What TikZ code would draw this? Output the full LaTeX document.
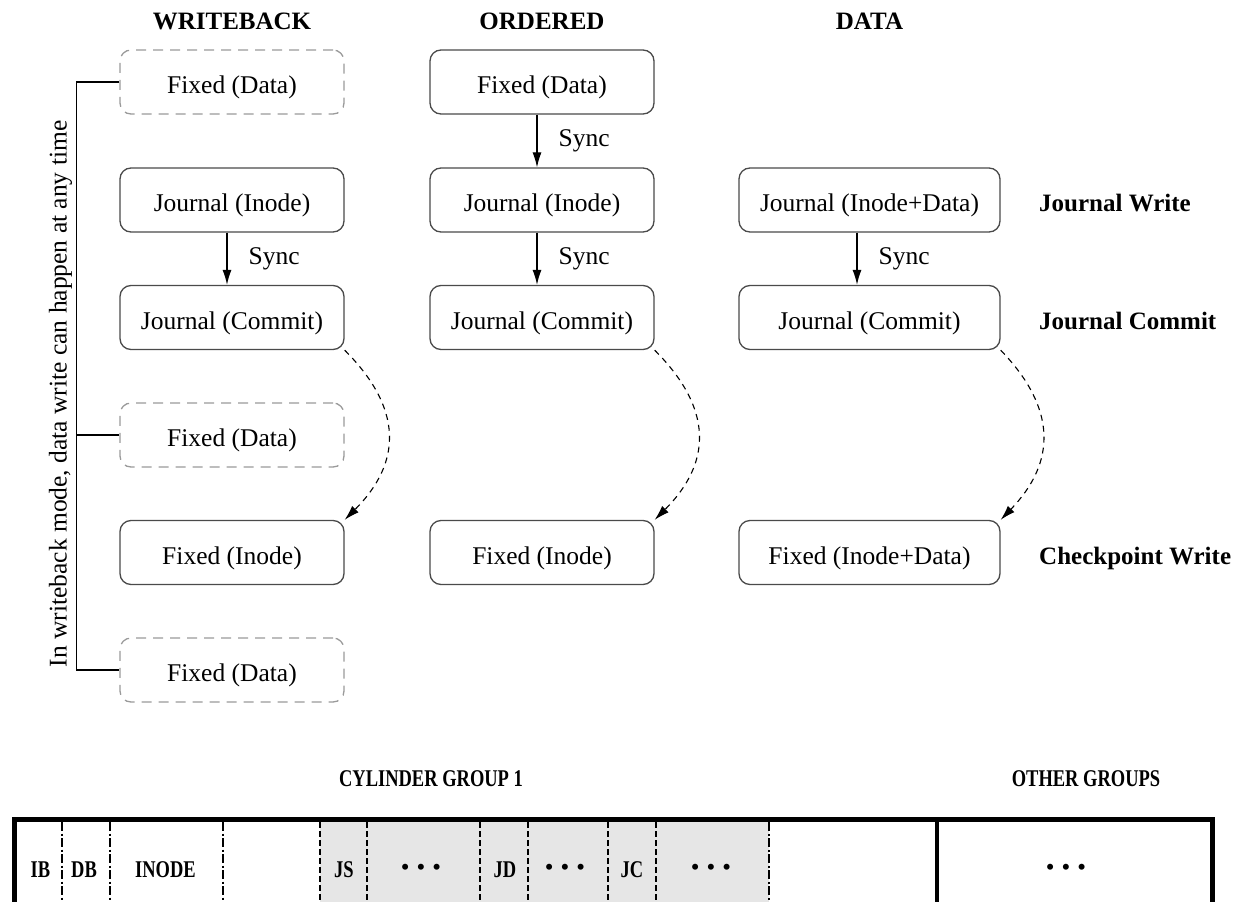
\documentclass[tikz,border=0pt]{standalone}
\usepackage{fontspec}
\setmainfont{Liberation Serif}
\usepackage{graphicx}
\usetikzlibrary{arrows.meta}

\definecolor{boxline}{HTML}{4A4A4A}
\definecolor{dashline}{HTML}{9A9A9A}
\definecolor{jfill}{HTML}{E6E6E6}

% condensed bold caps used in the on-disk layout strip
\newcommand{\condbf}[1]{\scalebox{0.77}[1]{\bfseries #1}}
\newcommand{\threedots}{\textbullet\hspace{8pt}\textbullet\hspace{8pt}\textbullet}

\begin{document}
\begin{tikzpicture}[x=1pt,y=-1pt,
  every node/.style={font=\fontsize{25.5}{30}\selectfont},
  blk/.style={rectangle, rounded corners=11pt, draw=boxline, line width=1.3pt,
              minimum height=64pt, text height=23.5pt, text depth=0pt, inner sep=0pt},
  wide/.style={minimum width=224pt},
  wider/.style={minimum width=261pt},
  ghost/.style={blk, draw=dashline, dash pattern=on 10pt off 7pt},
  syncarrow/.style={line width=1.2pt, -{Latex[length=15pt,width=9pt]}},
  lazyarrow/.style={line width=1.1pt, dash pattern=on 6pt off 5pt,
                    -{Latex[length=15pt,width=9pt]}},
  synclabel/.style={anchor=west, inner sep=0pt, xshift=21pt},
  head/.style={font=\fontsize{25}{30}\selectfont\bfseries, inner sep=0pt},
  phase/.style={font=\fontsize{25}{30}\selectfont\bfseries, anchor=west,
                inner sep=0pt, text height=23.5pt, text depth=0pt},
  bracket/.style={line width=1.2pt},
  cell/.style={font=\fontsize{24}{28}\selectfont, inner sep=0pt,
               text height=16pt, text depth=0pt},
  dots/.style={font=\fontsize{22}{26}\selectfont\bfseries, inner sep=0pt},
  dashdot/.style={line width=1.4pt, dash pattern=on 9pt off 2.5pt on 2pt off 2.5pt},
  dashsep/.style={line width=1.4pt, dash pattern=on 6pt off 3pt},
]
\useasboundingbox (0,0) rectangle (1240,902);
\clip (0,0) rectangle (1240,902);

% ---- column headings ----
\node[head] (hWB) at (232,21) {WRITEBACK};
\node[head] (hOR) at (542,21) {ORDERED};
\node[head] (hDA) at (869.5,21) {DATA};

% ---- writeback mode ----
\node[ghost,wide] (wbD1) at (232,82)    {Fixed (Data)};
\node[blk,wide]   (wbJI) at (232,200)   {Journal (Inode)};
\node[blk,wide]   (wbJC) at (232,317.5) {Journal (Commit)};
\node[ghost,wide] (wbD2) at (232,435)   {Fixed (Data)};
\node[blk,wide]   (wbFI) at (232,552.5) {Fixed (Inode)};
\node[ghost,wide] (wbD3) at (232,670)   {Fixed (Data)};

\draw[syncarrow] ([xshift=-5pt]wbJI.south) -- ([xshift=-5pt]wbJC.north)
  node[midway,synclabel] (wbS) {Sync};
\draw[lazyarrow] (wbJC.south east) .. controls +(58,58) and +(58,-58) .. (wbFI.north east);

% data may be written at any point in writeback mode
\draw[bracket] (wbD1.west) -- ++(-43,0) coordinate (brTop) |- (wbD3.west);
\draw[bracket] (wbD2.west) -- ++(-43,0) coordinate (brMid);
\node[rotate=90] (wbNote) at (60.5,394) {In writeback mode, data write can happen at any time};

% ---- ordered mode ----
\node[blk,wide] (orD)  at (542,82)    {Fixed (Data)};
\node[blk,wide] (orJI) at (542,200)   {Journal (Inode)};
\node[blk,wide] (orJC) at (542,317.5) {Journal (Commit)};
\node[blk,wide] (orFI) at (542,552.5) {Fixed (Inode)};

\draw[syncarrow] ([xshift=-5pt]orD.south) -- ([xshift=-5pt]orJI.north)
  node[midway,synclabel] (orS1) {Sync};
\draw[syncarrow] ([xshift=-5pt]orJI.south) -- ([xshift=-5pt]orJC.north)
  node[midway,synclabel] (orS2) {Sync};
\draw[lazyarrow] (orJC.south east) .. controls +(58,58) and +(58,-58) .. (orFI.north east);

% ---- data mode ----
\node[blk,wider] (daJI) at (869.5,200)   {Journal (Inode+Data)};
\node[blk,wider] (daJC) at (869.5,317.5) {Journal (Commit)};
\node[blk,wider] (daFI) at (869.5,552.5) {Fixed (Inode+Data)};

\draw[syncarrow] ([xshift=-12.5pt]daJI.south) -- ([xshift=-12.5pt]daJC.north)
  node[midway,synclabel] (daS) {Sync};
\draw[lazyarrow] (daJC.south east) .. controls +(56,58) and +(56,-58) .. (daFI.north east);

% ---- phase names ----
\node[phase] (pJW) at (1039,200)   {Journal Write};
\node[phase] (pJC) at (1039,317.5) {Journal Commit};
\node[phase] (pCW) at (1039,552.5) {Checkpoint Write};

% ---- on-disk layout strip ----
\node[cell] (gCG) at (431,778)  {\condbf{CYLINDER GROUP 1}};
\node[cell] (gOG) at (1086,778) {\condbf{OTHER GROUPS}};

\fill[jfill] (320,822) rectangle (769,906);
\draw[dashdot] (62,822) -- (62,906);
\draw[dashdot] (110,822) -- (110,906);
\draw[dashdot] (223,822) -- (223,906);
\draw[dashsep] (320,822) -- (320,906);
\draw[dashsep] (367,822) -- (367,906);
\draw[dashsep] (480,822) -- (480,906);
\draw[dashsep] (528,822) -- (528,906);
\draw[dashsep] (608,822) -- (608,906);
\draw[dashsep] (656,822) -- (656,906);
\draw[dashdot] (769,822) -- (769,906);
\draw[line width=4pt] (937,820) -- (937,906);
\draw[line width=5pt] (14.5,819.5) rectangle (1212,904);

\node[cell] (cIB) at (40.5,869) {\condbf{IB}};
\node[cell] (cDB) at (84,869)   {\condbf{DB}};
\node[cell] (cIN) at (165.5,869) {\condbf{INODE}};
\node[cell] (cJS) at (344,869)  {\condbf{JS}};
\node[dots] (d1)  at (421,869)  {\threedots};
\node[cell] (cJD) at (505,869)  {\condbf{JD}};
\node[dots] (d2)  at (565,869)  {\threedots};
\node[cell] (cJC) at (632,869)  {\condbf{JC}};
\node[dots] (d3)  at (711,869)  {\threedots};
\node[dots] (d4)  at (1066,869) {\threedots};
\end{tikzpicture}
\end{document}
